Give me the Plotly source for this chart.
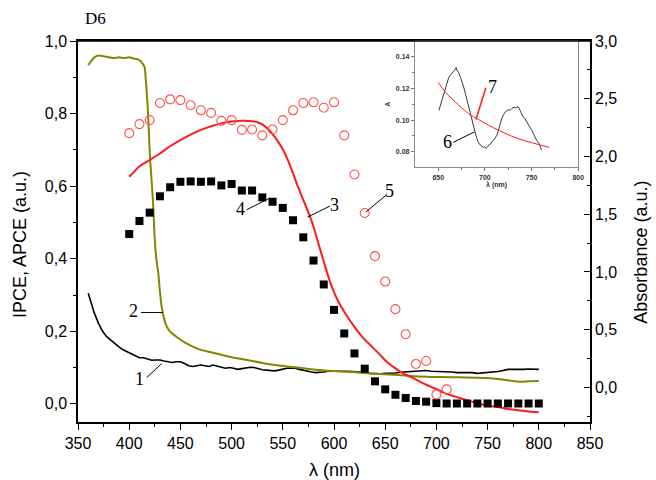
import plotly.graph_objects as go

# ---------------- main data (left-axis units) ----------------
line1_x = [360, 363, 366, 370, 374, 378, 382, 386, 390, 394, 398, 402, 406, 410, 414, 418, 422, 426, 430,
           434, 438, 442, 446, 450, 454, 458, 462, 466, 470, 474, 478, 482, 486, 490, 494, 498, 502, 506,
           510, 514, 518, 522, 526, 530, 534, 538, 542, 546, 550, 554, 558, 562, 566, 570, 574, 578, 582,
           586, 590, 594, 598, 602, 606, 610, 614, 618, 622, 626, 630, 635, 640, 645, 650, 655, 660, 665,
           670, 675, 680, 685, 690, 695, 700, 705, 710, 715, 720, 725, 730, 735, 740, 745, 750, 755, 760,
           765, 770, 775, 780, 785, 790, 795, 800]
line1_y = [0.305, 0.275, 0.250, 0.222, 0.200, 0.185, 0.175, 0.165, 0.157, 0.149, 0.143, 0.137, 0.131, 0.127,
           0.127, 0.123, 0.120, 0.121, 0.121, 0.118, 0.115, 0.114, 0.116, 0.116, 0.111, 0.105, 0.103, 0.106,
           0.107, 0.105, 0.103, 0.107, 0.105, 0.101, 0.098, 0.100, 0.098, 0.095, 0.097, 0.100, 0.101, 0.100,
           0.096, 0.094, 0.093, 0.091, 0.091, 0.093, 0.096, 0.098, 0.098, 0.098, 0.095, 0.092, 0.090, 0.088,
           0.086, 0.086, 0.088, 0.090, 0.090, 0.091, 0.091, 0.092, 0.090, 0.089, 0.088, 0.089, 0.086, 0.084,
           0.083, 0.083, 0.084, 0.084, 0.085, 0.087, 0.088, 0.089, 0.091, 0.093, 0.092, 0.090, 0.090, 0.089,
           0.089, 0.088, 0.086, 0.086, 0.087, 0.086, 0.084, 0.085, 0.086, 0.087, 0.089, 0.092, 0.095, 0.095,
           0.094, 0.095, 0.096, 0.095, 0.095]

line2_x = [360, 363, 366, 370, 375, 380, 385, 390, 395, 400, 404, 408, 411, 413, 415, 416, 417, 418, 418.7,
           419.5, 420.3, 422, 423.5, 425, 426.5, 428.4, 430, 431.7, 434, 436.6, 440, 446, 455, 466, 480, 498,
           515, 531, 548, 564, 580, 596, 615, 635, 658, 675, 690, 705, 723, 740, 749, 762, 772, 782, 790, 800]
line2_y = [0.933, 0.945, 0.955, 0.960, 0.958, 0.955, 0.953, 0.955, 0.953, 0.955, 0.952, 0.950, 0.945, 0.938,
           0.928, 0.900, 0.864, 0.820, 0.782, 0.730, 0.680, 0.610, 0.543, 0.451, 0.400, 0.360, 0.310, 0.268,
           0.235, 0.213, 0.199, 0.185, 0.168, 0.153, 0.142, 0.130, 0.121, 0.112, 0.105, 0.100, 0.095, 0.091,
           0.088, 0.084, 0.080, 0.077, 0.075, 0.074, 0.073, 0.072, 0.071, 0.068, 0.064, 0.061, 0.062, 0.063]

line3_x = [400, 405, 410, 420, 430, 440, 450, 460, 470, 480, 490, 500, 510, 520, 525, 531, 536, 541, 546,
           550.5, 555, 560, 565, 570, 576.6, 580, 585, 589.6, 594, 599, 605, 612, 620, 628.6, 638, 645, 651.5,
           658, 664.5, 671, 677.5, 684, 690.5, 700, 706.7, 715, 723, 731, 739.4, 747, 755.6, 764, 771.9,
           781.6, 790, 800]
line3_y = [0.626, 0.640, 0.655, 0.672, 0.690, 0.710, 0.727, 0.742, 0.755, 0.765, 0.773, 0.778, 0.780, 0.779,
           0.776, 0.768, 0.756, 0.740, 0.720, 0.699, 0.672, 0.635, 0.597, 0.562, 0.516, 0.488, 0.440, 0.396,
           0.355, 0.314, 0.278, 0.245, 0.212, 0.181, 0.155, 0.135, 0.116, 0.102, 0.089, 0.079, 0.071, 0.061,
           0.052, 0.041, 0.031, 0.023, 0.016, 0.009, 0.002, -0.003, -0.007, -0.011, -0.015, -0.018, -0.021,
           -0.023]

ipce_x = [400, 410, 420, 430, 440, 450, 460, 470, 480, 490, 500, 510, 520, 530, 540, 550, 560, 570, 580, 590,
          600, 610, 620, 630, 640, 650, 660, 670, 680, 690, 700, 710, 720, 730, 740, 750, 760, 770, 780, 790, 800]
ipce_y = [0.468, 0.504, 0.527, 0.572, 0.597, 0.612, 0.613, 0.612, 0.613, 0.602, 0.606, 0.588, 0.588, 0.569,
          0.557, 0.540, 0.506, 0.459, 0.395, 0.329, 0.259, 0.194, 0.139, 0.097, 0.062, 0.040, 0.025, 0.016,
          0.008, 0.006, 0.002, 0.001, 0.001, 0.001, 0.001, 0.001, 0.001, 0.001, 0.001, 0.001, 0.001]

apce_x = [400, 410, 420, 430, 440, 450, 460, 470, 480, 490, 500, 510, 520, 530, 540, 550, 560, 570, 580, 590,
          600, 610, 620, 630, 640, 650, 660, 670, 680, 690, 700, 710]
apce_y = [0.746, 0.771, 0.782, 0.829, 0.839, 0.837, 0.823, 0.809, 0.802, 0.780, 0.782, 0.755, 0.756, 0.740,
          0.756, 0.782, 0.809, 0.829, 0.831, 0.816, 0.831, 0.740, 0.632, 0.526, 0.407, 0.337, 0.261, 0.192,
          0.110, 0.118, 0.026, 0.040]

# ---------------- inset data ----------------
ins6_x = [650.7, 652, 653.5, 655, 656, 657.5, 658.5, 660, 661.3, 663, 665, 666.5, 668.4, 669.2, 670, 672,
          673.8, 675.5, 677.3, 679, 680.9, 682.5, 684.4, 686, 688, 690, 691.5, 693, 695, 697, 698.6, 700,
          701.4, 703, 704, 706, 707.4, 709, 711, 713, 714.5, 716, 718, 720, 721.6, 723, 725, 727, 728.7, 730,
          732.3, 734, 735, 736.5, 737.6, 739, 741, 743, 744.7, 746.5, 748, 750, 751.8, 753.5, 755.3, 757,
          758.9, 760.6]
ins6_y = [0.1061, 0.1088, 0.1114, 0.1140, 0.1176, 0.1205, 0.1229, 0.1252, 0.1270, 0.1284, 0.1302, 0.1308,
          0.1323, 0.1332, 0.1316, 0.1298, 0.1270, 0.1243, 0.1208, 0.1170, 0.1124, 0.1080, 0.1030, 0.0990,
          0.0946, 0.0912, 0.0884, 0.0860, 0.0842, 0.0834, 0.0827, 0.0832, 0.0821, 0.0830, 0.0842, 0.0848,
          0.0863, 0.0870, 0.0884, 0.0905, 0.0936, 0.0970, 0.1009, 0.1035, 0.1051, 0.1058, 0.1065, 0.1062,
          0.1072, 0.1078, 0.1082, 0.1076, 0.1086, 0.1079, 0.1061, 0.1045, 0.1020, 0.1008, 0.0988, 0.0975,
          0.0957, 0.0938, 0.0915, 0.0898, 0.0873, 0.0860, 0.0842, 0.0810]

ins7_x = [650, 657.8, 668.4, 682.6, 693.3, 704, 714.5, 728.7, 742.9, 757, 768.8]
ins7_y = [0.1239, 0.1176, 0.1114, 0.1040, 0.1003, 0.0967, 0.0936, 0.0898, 0.0869, 0.0846, 0.0827]

# tick labels (comma decimal on the main axes)
left_tickvals = [0.0, 0.2, 0.4, 0.6, 0.8, 1.0]
left_ticktext = ["0,0", "0,2", "0,4", "0,6", "0,8", "1,0"]
right_tickvals = [0.0, 0.5, 1.0, 1.5, 2.0, 2.5, 3.0]
right_ticktext = ["0,0", "0,5", "1,0", "1,5", "2,0", "2,5", "3,0"]
x_tickvals = [350, 400, 450, 500, 550, 600, 650, 700, 750, 800, 850]

OLIVE = "#858500"
RED = "#ff1a1a"
CIRC = "#ff5050"

fig = go.Figure()
fig.add_trace(go.Scatter(x=line1_x, y=line1_y, mode="lines", line=dict(color="black", width=1.6),
                         name="1", xaxis="x", yaxis="y"))
fig.add_trace(go.Scatter(x=line2_x, y=line2_y, mode="lines", line=dict(color=OLIVE, width=2, shape="spline"),
                         name="2", xaxis="x", yaxis="y"))
fig.add_trace(go.Scatter(x=line3_x, y=line3_y, mode="lines", line=dict(color=RED, width=2, shape="spline"),
                         name="3", xaxis="x", yaxis="y"))
fig.add_trace(go.Scatter(x=ipce_x, y=ipce_y, mode="markers",
                         marker=dict(symbol="square", size=8, color="black"), name="4"))
fig.add_trace(go.Scatter(x=apce_x, y=apce_y, mode="markers",
                         marker=dict(symbol="circle-open", size=9, color=CIRC, line=dict(width=1.1)), name="5"))
# empty trace so that the right (absorbance) axis is drawn
fig.add_trace(go.Scatter(x=[], y=[], mode="markers", xaxis="x", yaxis="y2", hoverinfo="skip",
                         name="absorbance axis"))
# inset
fig.add_trace(go.Scatter(x=ins6_x, y=ins6_y, mode="lines", line=dict(color="#3a3a3a", width=1),
                         xaxis="x2", yaxis="y3", name="6"))
fig.add_trace(go.Scatter(x=ins7_x, y=ins7_y, mode="lines", line=dict(color=RED, width=1, shape="spline"),
                         xaxis="x2", yaxis="y3", name="7"))

axis_font = dict(family="Liberation Sans, Arial", size=16, color="black")

fig.update_layout(
    width=656, height=480,
    margin=dict(l=78, r=66, t=41, b=58),
    paper_bgcolor="white", plot_bgcolor="white",
    showlegend=False,
    xaxis=dict(range=[350, 850], tickvals=x_tickvals, ticks="outside", ticklen=6, tickwidth=1.3,
               tickcolor="black", showline=True, linecolor="black", linewidth=1.5, mirror=True,
               showgrid=False, zeroline=False, tickfont=axis_font,
               minor=dict(tickvals=[375, 425, 475, 525, 575, 625, 675, 725, 775, 825], ticks="outside",
                          ticklen=3, tickwidth=1.2, tickcolor="black")),
    yaxis=dict(range=[-0.05, 1.0], tickvals=left_tickvals, ticktext=left_ticktext, ticks="outside",
               ticklen=6, tickwidth=1.3, tickcolor="black", showline=True, linecolor="black", linewidth=1.5,
               showgrid=False, zeroline=False, tickfont=axis_font,
               minor=dict(tickvals=[0.1, 0.3, 0.5, 0.7, 0.9], ticks="outside", ticklen=3, tickwidth=1.2,
                          tickcolor="black")),
    yaxis2=dict(range=[-0.3, 3.0], overlaying="y", side="right", anchor="x", tickvals=right_tickvals,
                ticktext=right_ticktext, ticks="inside", ticklen=6, tickwidth=1.3, tickcolor="black",
                showline=True, linecolor="black", linewidth=1.5, showgrid=False, zeroline=False,
                tickfont=axis_font,
                minor=dict(tickvals=[-0.25, 0.25, 0.75, 1.25, 1.75, 2.25, 2.75], ticks="inside", ticklen=3,
                           tickwidth=1.2, tickcolor="black")),
    xaxis2=dict(domain=[0.658, 0.977], anchor="y3", range=[625, 800], tickvals=[650, 700, 750, 800],
                ticks="outside", ticklen=3, tickwidth=1, tickcolor="#777", showline=True, linecolor="#888",
                linewidth=1, mirror=True, showgrid=False, zeroline=False,
                tickfont=dict(family="Liberation Sans, Arial", size=7, color="#333", weight="bold"),
                minor=dict(tickvals=[675, 725, 775], ticks="outside", ticklen=2, tickcolor="#777"),
                title=dict(text="λ (nm)", standoff=2,
                           font=dict(family="Liberation Sans, Arial", size=7, color="#333", weight="bold"))),
    yaxis3=dict(domain=[0.668, 1.0], anchor="x2", range=[0.07, 0.15], tickvals=[0.08, 0.10, 0.12, 0.14],
                ticktext=["0.08", "0.10", "0.12", "0.14"],
                ticks="outside", ticklen=3, tickwidth=1, tickcolor="#777", showline=True, linecolor="#888",
                linewidth=1, mirror=True, showgrid=False, zeroline=False,
                tickfont=dict(family="Liberation Sans, Arial", size=7, color="#333", weight="bold"),
                minor=dict(tickvals=[0.09, 0.11, 0.13], ticks="outside", ticklen=2, tickcolor="#777"),
                title=dict(text="A", standoff=4,
                           font=dict(family="Liberation Sans, Arial", size=7, color="#333", weight="bold"))),
)

serif = dict(family="Liberation Serif, Times New Roman", size=18, color="black")
title_font = dict(family="Liberation Sans, Arial", size=18, color="black")

def label(text, x, y, xref, yref, font, angle=0):
    return dict(text=text, x=x, y=y, xref=xref, yref=yref, showarrow=False, font=font,
                xanchor="center", yanchor="middle", textangle=angle)

annotations = [
    label("D6", 0.035, 1.06, "paper", "paper",
          dict(family="Liberation Serif, Times New Roman", size=17, color="black")),
    label("IPCE, APCE (a.u.)", -0.113, 0.465, "paper", "paper", title_font, -90),
    label("Absorbance (a.u.)", 1.1, 0.445, "paper", "paper", title_font, -90),
    label("λ (nm)", 0.50, -0.125, "paper", "paper", title_font),
    label("1", 409.9, 0.068, "x", "y", serif),
    label("2", 404.0, 0.255, "x", "y", serif),
    label("3", 600.5, 0.549, "x", "y", serif),
    label("4", 508.2, 0.537, "x", "y", serif),
    label("5", 654.4, 0.587, "x", "y", serif),
    label("6", 659.9, 0.0863, "x2", "y3", serif),
    label("7", 708.5, 0.1206, "x2", "y3", serif),
]
fig.update_layout(annotations=annotations)

shapes = [
    dict(type="line", xref="paper", yref="paper", x0=0, y0=1, x1=1, y1=1, line=dict(color="black", width=1.5)),
    dict(type="line", xref="x", yref="y", x0=417.1, y0=0.0725, x1=431.7, y1=0.111, line=dict(color="black", width=1)),
    dict(type="line", xref="x", yref="y", x0=411.5, y0=0.2516, x1=432.7, y1=0.2516, line=dict(color="black", width=1)),
    dict(type="line", xref="x", yref="y", x0=574.3, y0=0.515, x1=596.1, y1=0.545, line=dict(color="black", width=1)),
    dict(type="line", xref="x", yref="y", x0=514.7, y0=0.535, x1=537.3, y1=0.567, line=dict(color="black", width=1)),
    dict(type="line", xref="x", yref="y", x0=631.3, y0=0.529, x1=650.8, y1=0.575, line=dict(color="black", width=1)),
    dict(type="line", xref="x2", yref="y3", x0=666, y0=0.0859, x1=688.7, y1=0.0925, line=dict(color="black", width=1)),
    dict(type="line", xref="x2", yref="y3", x0=701, y0=0.1204, x1=690.4, y1=0.1003, line=dict(color=RED, width=1.5)),
]
fig.update_layout(shapes=shapes)

fig.write_html("out.html")
